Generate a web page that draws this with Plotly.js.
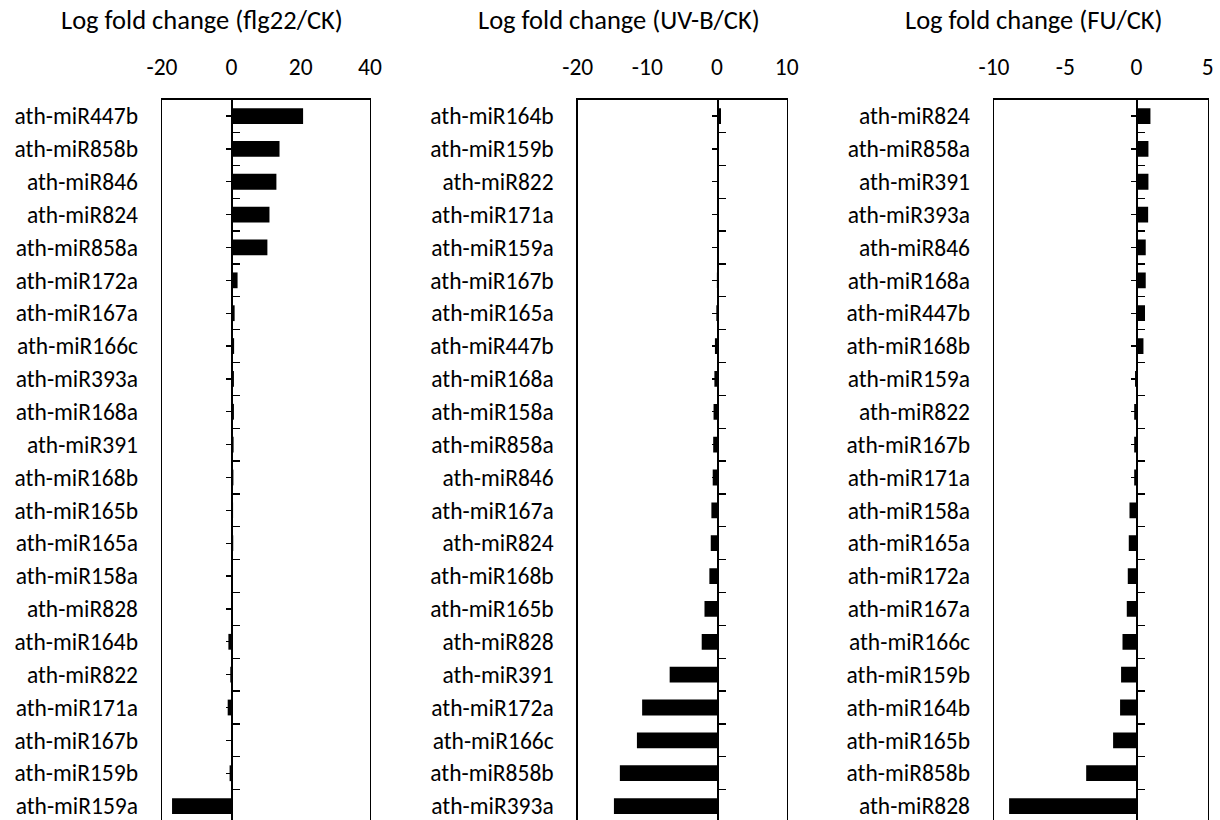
<!DOCTYPE html>
<html>
<head>
<meta charset="utf-8">
<script src="https://cdn.plot.ly/plotly-3.0.1.min.js"></script>
<style>
  html, body { margin: 0; padding: 0; background: #ffffff; }
  #chart { width: 1220px; height: 820px; }
</style>
</head>
<body>
<div id="chart"></div>
<script>
// ---- Data ----
const titles = ["Log fold change (flg22/CK)", "Log fold change (UV-B/CK)", "Log fold change (FU/CK)"];

const flg22Cats = ["ath-miR447b","ath-miR858b","ath-miR846","ath-miR824","ath-miR858a","ath-miR172a",
  "ath-miR167a","ath-miR166c","ath-miR393a","ath-miR168a","ath-miR391","ath-miR168b","ath-miR165b",
  "ath-miR165a","ath-miR158a","ath-miR828","ath-miR164b","ath-miR822","ath-miR171a","ath-miR167b",
  "ath-miR159b","ath-miR159a"];
const flg22Vals = [20.7, 13.9, 13.0, 11.0, 10.4, 1.8, 0.95, 0.8, 0.75, 0.75, 0.65, 0.6, 0.5,
  0.55, 0.4, 0.2, -0.85, -0.3, -1.05, -0.05, -0.5, -17.1];

const uvbCats = ["ath-miR164b","ath-miR159b","ath-miR822","ath-miR171a","ath-miR159a","ath-miR167b",
  "ath-miR165a","ath-miR447b","ath-miR168a","ath-miR158a","ath-miR858a","ath-miR846","ath-miR167a",
  "ath-miR824","ath-miR168b","ath-miR165b","ath-miR828","ath-miR391","ath-miR172a","ath-miR166c",
  "ath-miR858b","ath-miR393a"];
const uvbVals = [0.57, 0.24, 0.05, 0.02, 0.01, -0.02, -0.1, -0.3, -0.38, -0.5, -0.55, -0.62, -0.81,
  -0.9, -1.1, -1.8, -2.2, -6.8, -10.75, -11.5, -13.95, -14.8];

const fuCats = ["ath-miR824","ath-miR858a","ath-miR391","ath-miR393a","ath-miR846","ath-miR168a",
  "ath-miR447b","ath-miR168b","ath-miR159a","ath-miR822","ath-miR167b","ath-miR171a","ath-miR158a",
  "ath-miR165a","ath-miR172a","ath-miR167a","ath-miR166c","ath-miR159b","ath-miR164b","ath-miR165b",
  "ath-miR858b","ath-miR828"];
const fuVals = [0.98, 0.84, 0.84, 0.82, 0.65, 0.65, 0.6, 0.49, -0.1, -0.16, -0.16, -0.16, -0.49,
  -0.54, -0.61, -0.68, -0.98, -1.08, -1.15, -1.64, -3.53, -8.94];

const xRanges = [[-20, 40], [-20, 10], [-10, 5]];
const flg22Ticks = [-20, 0, 20, 40];
const flg22TickText = ["-20", "0", "20", "40"];
const uvbTicks = [-20, -10, 0, 10];
const uvbTickText = ["-20", "-10", "0", "10"];
const fuTicks = [-10, -5, 0, 5];
const fuTickText = ["-10", "-5", "0", "5"];

// ---- Layout geometry (pixels of the 1220x820 canvas) ----
const W = 1220, H = 820;
const boxPx = [[162, 370], [577.7, 786.7], [994, 1207.7]];
const titleXPx = [202, 619, 1034];
const boxTopPx = 99.6;
const rowPx = 32.86;
const FONT = "Calibri, Carlito, Lato, 'Open Sans', sans-serif";
const FS = 23.5;
const TFS = 26.5;

const panels = [
  {cats: flg22Cats, vals: flg22Vals, ticks: flg22Ticks, tickText: flg22TickText},
  {cats: uvbCats, vals: uvbVals, ticks: uvbTicks, tickText: uvbTickText},
  {cats: fuCats, vals: fuVals, ticks: fuTicks, tickText: fuTickText}
];

const nRows = flg22Cats.length;
const yBottom = -0.5 + (H - boxTopPx) / rowPx;
const yRange = [yBottom, -0.5];
const yDomain = [0, 1 - boxTopPx / H];

const boundaries = [];
const centers = [];
for (let i = 0; i < nRows; i++) { centers.push(i); if (i < nRows - 1) boundaries.push(i + 0.5); }

const data = [];
const layout = {
  width: W, height: H,
  margin: {l: 0, r: 0, t: 0, b: 0},
  paper_bgcolor: "#ffffff",
  plot_bgcolor: "#ffffff",
  showlegend: false,
  bargap: 0.52,
  font: {family: FONT, size: FS, color: "#000000"},
  annotations: []
};

panels.forEach((p, k) => {
  const n = k + 1;
  const xName = n === 1 ? "x" : "x" + n;
  const yName = n === 1 ? "y" : "y" + n;
  const xKey = n === 1 ? "xaxis" : "xaxis" + n;
  const yKey = n === 1 ? "yaxis" : "yaxis" + n;
  const xd = [boxPx[k][0] / W, boxPx[k][1] / W];

  data.push({
    type: "bar", orientation: "h",
    x: p.vals, y: p.cats,
    xaxis: xName, yaxis: yName,
    marker: {color: "#000000", line: {width: 0}},
    hoverinfo: "x+y"
  });

  layout[xKey] = {
    domain: xd, anchor: yName, side: "top",
    range: xRanges[k], tickmode: "array", tickvals: p.ticks, ticktext: p.tickText,
    showgrid: false, zeroline: false,
    showline: true, linecolor: "#000000", linewidth: 1.3, mirror: false,
    ticks: "", ticklabelstandoff: 14,
    tickfont: {family: FONT, size: FS, color: "#000000"},
    fixedrange: true
  };
  layout[yKey] = {
    domain: yDomain, anchor: xName, type: "category",
    range: yRange,
    showgrid: false, zeroline: false,
    showline: true, linecolor: "#000000", linewidth: 1.3, mirror: true,
    ticks: "", ticklabelstandoff: 18,
    tickfont: {family: FONT, size: FS, color: "#000000"},
    fixedrange: true
  };

  // zero axis (category axis crossing at x = 0) with Excel-like tick marks
  const zeroPos = xd[0] + (0 - xRanges[k][0]) / (xRanges[k][1] - xRanges[k][0]) * (xd[1] - xd[0]);
  const yA = 3 + 2 * k + 1, yB = 3 + 2 * k + 2;
  layout["yaxis" + yA] = {
    domain: yDomain, overlaying: yName, anchor: "free", position: zeroPos,
    range: yRange, showgrid: false, zeroline: false, showticklabels: false,
    showline: true, linecolor: "#000000", linewidth: 1.5,
    ticks: "inside", tickmode: "array", tickvals: boundaries, ticklen: 7, tickwidth: 1.3, tickcolor: "#000000",
    fixedrange: true
  };
  layout["yaxis" + yB] = {
    domain: yDomain, overlaying: yName, anchor: "free", position: zeroPos,
    range: yRange, showgrid: false, zeroline: false, showticklabels: false,
    showline: false,
    ticks: "outside", tickmode: "array", tickvals: centers, ticklen: 5, tickwidth: 1.3, tickcolor: "#000000",
    fixedrange: true
  };
  data.push({type: "scatter", mode: "none", x: [], y: [], xaxis: xName, yaxis: "y" + yA, hoverinfo: "skip"});
  data.push({type: "scatter", mode: "none", x: [], y: [], xaxis: xName, yaxis: "y" + yB, hoverinfo: "skip"});

  layout.annotations.push({
    text: titles[k], xref: "paper", yref: "paper",
    x: titleXPx[k] / W, y: 1 - 20 / H, xanchor: "center", yanchor: "middle",
    showarrow: false, font: {family: FONT, size: TFS, color: "#000000"}
  });
});

Plotly.newPlot("chart", data, layout, {displayModeBar: false, staticPlot: true});
</script>
</body>
</html>
